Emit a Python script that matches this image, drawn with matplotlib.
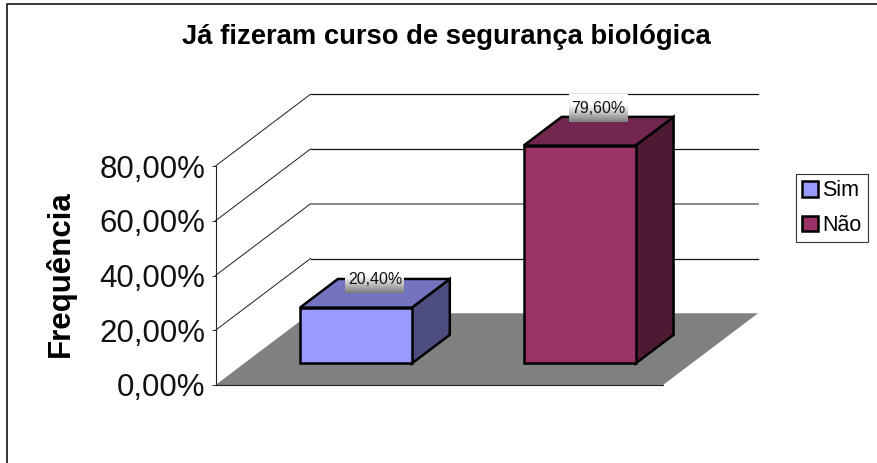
import numpy as np
import matplotlib
matplotlib.use('Agg')
import matplotlib.pyplot as plt
from matplotlib.lines import Line2D
from matplotlib.patches import Patch, Polygon

plt.rcParams['font.family'] = ['Liberation Sans', 'DejaVu Sans']

categories = ['Sim', 'Não']
values = [20.4, 79.6]
value_labels = ['20,40%', '79,60%']
y_ticks = [0, 20, 40, 60, 80]
y_tick_labels = ['0,00%', '20,00%', '40,00%', '60,00%', '80,00%']

front_colors = ['#9999FF', '#993366']
top_colors = ['#7373BF', '#732650']
side_colors = ['#4D4D80', '#4D1A33']

# deslocamento obliquo do fundo, em unidades dos dados
DEPTH_X = 0.4246
DEPTH_Y = 26.2
BAR_WIDTH = 0.5
BAR_FRONT = 0.3
BAR_BACK = 0.7
LABEL_LIFT = [0, 3.3]


def proj(x, y, depth):
    return (x + DEPTH_X * depth, y + DEPTH_Y * depth)


fig = plt.figure(figsize=(8.77, 4.63), dpi=100)
ax = fig.add_axes([215.5 / 877, (463 - 385) / 463, 447.5 / 877, 219 / 463])
ax.patch.set_alpha(0)
ax.set_xlim(0, 2)
ax.set_ylim(0, 80)

# grade nas paredes
for v in y_ticks[1:]:
    ax.plot(*zip(proj(0, v, 0), proj(0, v, 1)), color='#222222', lw=0.72,
            zorder=1, clip_on=False)
    grid_color, grid_lw = ('#808080', 1.3) if v == 40 else ('#111111', 0.9)
    ax.plot(*zip(proj(0, v, 1), proj(2, v, 1)), color=grid_color, lw=grid_lw,
            zorder=1, clip_on=False)

# piso
ax.add_patch(Polygon([proj(0, 0, 0), proj(2, 0, 0), proj(2, 0, 1), proj(0, 0, 1)],
                     facecolor='#808080', edgecolor='none', zorder=1.5, clip_on=False))

# barras
for i, v in enumerate(values):
    x0 = i + 0.5 - BAR_WIDTH / 2
    x1 = i + 0.5 + BAR_WIDTH / 2
    front = [proj(x0, 0, BAR_FRONT), proj(x1, 0, BAR_FRONT),
             proj(x1, v, BAR_FRONT), proj(x0, v, BAR_FRONT)]
    top = [proj(x0, v, BAR_FRONT), proj(x1, v, BAR_FRONT),
           proj(x1, v, BAR_BACK), proj(x0, v, BAR_BACK)]
    side = [proj(x1, 0, BAR_FRONT), proj(x1, 0, BAR_BACK),
            proj(x1, v, BAR_BACK), proj(x1, v, BAR_FRONT)]
    for pts, color in ((side, side_colors[i]), (top, top_colors[i]), (front, front_colors[i])):
        ax.add_patch(Polygon(pts, facecolor=color, edgecolor='black', lw=1.8,
                             joinstyle='miter', zorder=3, clip_on=False))

    # rotulo com fundo em degrade
    cx, cy = proj(i + 0.5, v, 0.5)
    cy += LABEL_LIFT[i]
    half_w = 29.5 / 223.75
    label_h = 28 / 2.7375
    ramp = np.clip(np.linspace(0.5, 1.3, 32), 0, 1)[:, None]
    ax.imshow(ramp, cmap='gray', vmin=0, vmax=1, aspect='auto', origin='lower',
              interpolation='bilinear', extent=(cx - half_w, cx + half_w, cy, cy + label_h),
              zorder=4, clip_on=False)
    ax.text(cx, cy + label_h / 2, value_labels[i], ha='center', va='center',
            fontsize=11.5, color='#111111', zorder=5, clip_on=False)

ax.set_xlim(0, 2)
ax.set_ylim(0, 80)

ax.set_xticks([])
ax.set_yticks(y_ticks)
ax.set_yticklabels(y_tick_labels, fontsize=22.5, color='#111111')
ax.tick_params(axis='y', length=3, width=0.72, pad=4.2, color='#333333')
for s in ('top', 'right'):
    ax.spines[s].set_visible(False)
for s in ('left', 'bottom'):
    ax.spines[s].set_linewidth(0.8)
    ax.spines[s].set_color('#222222')
    ax.spines[s].set_zorder(2.5)

ax.set_ylabel('Frequência', fontsize=22.5, fontweight='bold')
ax.yaxis.set_label_coords((76 - 215.5) / 447.5, (385 - 274) / 219)

fig.text(446 / 877, 1 - 37 / 463, 'Já fizeram curso de segurança biológica',
         ha='center', va='center', fontsize=19.75, fontweight='bold')

# moldura do grafico (so esquerda e topo aparecem)
fig.add_artist(Line2D([7.2 / 877, 7.2 / 877, 1], [0, 1 - 4 / 463, 1 - 4 / 463],
                      color='black', lw=1.1))

handles = [Patch(facecolor=c, edgecolor='black', lw=1.8) for c in front_colors]
leg = fig.legend(handles, categories, loc='upper left', fontsize=15.5,
                 bbox_to_anchor=(795.7 / 877, 1 - 174 / 463), borderaxespad=0,
                 fancybox=False, framealpha=1, edgecolor='#333333',
                 handlelength=0.72, handleheight=0.72, handletextpad=0.22,
                 borderpad=0.3, labelspacing=0.62)
leg.get_frame().set_linewidth(0.8)

fig.savefig('out.png', dpi=100)
